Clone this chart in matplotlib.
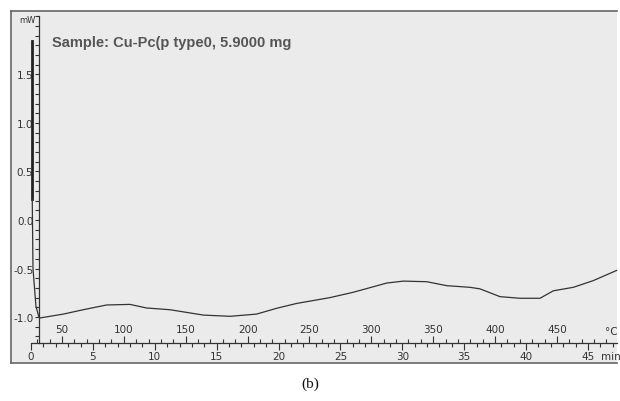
import numpy as np
import matplotlib
matplotlib.use('Agg')
import matplotlib.pyplot as plt
from matplotlib.ticker import MultipleLocator

# DSC trace: temperature (degC) vs heat flow (mW)
temp_start = [26.0, 26.0]
flow_start = [1.85, 0.22]

temp = [26.0, 26.6, 29.0, 31.4, 32.2, 51.1, 67.2, 86.1, 104.9, 118.4, 137.3,
        164.2, 185.8, 207.3, 223.5, 239.7, 266.6, 285.4, 312.4, 325.8, 344.7,
        360.9, 379.7, 387.8, 403.9, 420.1, 436.3, 447.0, 463.2, 479.3, 498.2]
flow = [0.22, -0.50, -0.89, -1.00, -1.01, -0.97, -0.925, -0.876, -0.87, -0.907,
        -0.925, -0.98, -0.993, -0.97, -0.91, -0.86, -0.80, -0.745, -0.65, -0.63,
        -0.636, -0.677, -0.694, -0.71, -0.79, -0.807, -0.807, -0.73, -0.694,
        -0.625, -0.52]

y_ticks = [-1.0, -0.5, 0.0, 0.5, 1.0, 1.5]
temp_ticks = [50, 100, 150, 200, 250, 300, 350, 400, 450]
time_ticks = [0, 5, 10, 15, 20, 25, 30, 35, 40, 45]
title = 'Sample: Cu-Pc(p type0, 5.9000 mg'

W, H = 620, 402
def fx(px):
    return px / W
def fy(py):
    return 1 - py / H

fig = plt.figure(figsize=(6.2, 4.02), dpi=100)
fig.patch.set_facecolor('white')

# scanned paper panel
bg = fig.add_axes([fx(11), fy(364), fx(617) - fx(11), fy(12) - fy(364)])
bg.set_facecolor('#ebebeb')
bg.set_xticks([])
bg.set_yticks([])
for s in ['left', 'top', 'bottom']:
    bg.spines[s].set_color('#666666')
    bg.spines[s].set_linewidth(1.2)
bg.spines['right'].set_visible(False)
bg.set_zorder(0)

ax = fig.add_axes([fx(31), fy(344), fx(617) - fx(31), fy(17) - fy(344)])
ax.set_zorder(1)
ax.patch.set_visible(False)
ax.set_xlim(25, 498.5)
ax.set_ylim(-1.268, 2.103)

ax.plot(temp_start, flow_start, color='#222222', lw=2.0, clip_on=False)
ax.plot(temp, flow, color='#333333', lw=0.9, clip_on=False)

ax.spines['top'].set_visible(False)
ax.spines['right'].set_visible(False)
ax.spines['left'].set_position(('data', 31.4))
for s in ['left', 'bottom']:
    ax.spines[s].set_color('#333333')
    ax.spines[s].set_linewidth(0.9)

ax.yaxis.set_major_locator(plt.FixedLocator(y_ticks))
ax.yaxis.set_minor_locator(MultipleLocator(0.1))
ax.set_yticklabels([f'{v:.1f}' for v in y_ticks])
ax.tick_params(axis='y', which='both', direction='out', length=3, width=0.8,
               color='#333333', labelsize=7.5, labelcolor='#333333', pad=1)

# temperature scale: ticks up, labels above the line
ax.xaxis.set_major_locator(plt.FixedLocator(temp_ticks))
ax.xaxis.set_minor_locator(MultipleLocator(10))
ax.set_xticklabels([str(t) for t in temp_ticks])
ax.tick_params(axis='x', which='major', direction='in', length=5, width=0.8,
               color='#333333', labelsize=7.5, labelcolor='#333333', pad=-14)
ax.tick_params(axis='x', which='minor', direction='in', length=3, width=0.8,
               color='#333333')

# time scale (10 K/min from 25 degC): ticks down, labels below
sec = ax.secondary_xaxis('bottom', functions=(lambda T: (T - 25) / 10.0,
                                              lambda t: t * 10.0 + 25))
sec.xaxis.set_major_locator(plt.FixedLocator(time_ticks))
sec.xaxis.set_minor_locator(MultipleLocator(1))
sec.set_xticklabels([str(t) for t in time_ticks])
sec.tick_params(axis='x', which='major', direction='out', length=5, width=0.8,
                color='#333333', labelsize=7.5, labelcolor='#333333', pad=1)
sec.tick_params(axis='x', which='minor', direction='out', length=3, width=0.8,
                color='#333333')
sec.spines['bottom'].set_visible(False)

ax.text(31.4 - 3, 2.07, 'mW', ha='right', va='center', fontsize=6,
        color='#333333')
fig.text(fx(605), fy(332), '°C', ha='left', va='center', fontsize=7.5,
         color='#333333')
fig.text(fx(601), fy(357), 'min', ha='left', va='center', fontsize=7.5,
         color='#333333')

fig.text(fx(52), fy(43), title, ha='left', va='center', fontsize=10.5,
         fontweight='bold', color='#555555', family='Liberation Sans')

fig.text(fx(310), fy(384), '(b)', ha='center', va='center', fontsize=11,
         family='Liberation Serif', color='#111111')

fig.savefig('out.png', dpi=100)
